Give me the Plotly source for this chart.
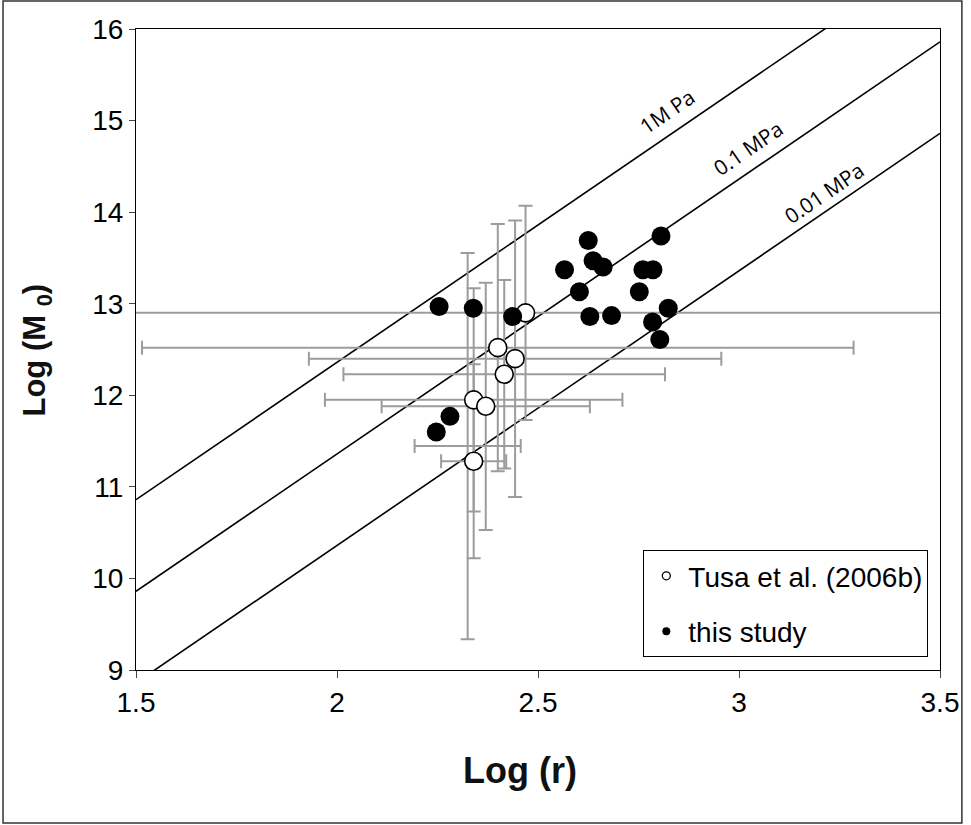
import plotly.graph_objects as go

# ---------------- data ----------------
# this study (filled)
study_logr = [2.254, 2.339, 2.437, 2.625, 2.566, 2.637, 2.662, 2.603, 2.629, 2.683,
              2.806, 2.761, 2.786, 2.752, 2.824, 2.785, 2.803, 2.281, 2.247]
study_logm = [12.97, 12.95, 12.86, 13.69, 13.37, 13.47, 13.40, 13.13, 12.86, 12.87,
              13.74, 13.37, 13.37, 13.13, 12.95, 12.80, 12.61, 11.77, 11.60]

# Tusa et al. (2006b) (open) with error bars
tusa_logr = [2.400, 2.443, 2.416, 2.340, 2.370, 2.340, 2.325]
tusa_logm = [12.52, 12.40, 12.23, 11.95, 11.88, 11.28, 11.445]
tusa_err_r = [0.885, 0.513, 0.40, 0.37, 0.259, 0.081, 0.132]
tusa_err_m = [1.35, 1.51, 1.03, 1.22, 1.35, 1.06, 2.11]
tusa_marker_opacity = [1, 1, 1, 1, 1, 1, 0]

# Tusa point with the very wide log(r) uncertainty
tusa_wide_logr = [2.469]
tusa_wide_logm = [12.90]
tusa_wide_err_r_minus = [1.004]
tusa_wide_err_r_plus = [1.06]
tusa_wide_err_m = [1.17]

# constant stress-drop reference lines
stress_labels = ["1M Pa", "0.1 MPa", "0.01 MPa"]
line_logr = [1.5, 3.5]
line_logm_start = [10.86, 9.86, 8.86]
line_logm_end = [16.86, 15.86, 14.86]
label_logr = [2.823, 3.023, 3.211]
label_logm = [15.10, 14.70, 14.21]

x_ticks = [1.5, 2, 2.5, 3, 3.5]
y_ticks = [9, 10, 11, 12, 13, 14, 15, 16]

# ---------------- figure ----------------
GRAY = "#9c9c9c"
fig = go.Figure()

for i in range(len(stress_labels)):
    fig.add_trace(go.Scatter(x=line_logr, y=[line_logm_start[i], line_logm_end[i]],
                             mode="lines", line=dict(color="black", width=1.6),
                             showlegend=False, hoverinfo="skip"))

# error bars (drawn first)
fig.add_trace(go.Scatter(
    x=tusa_logr, y=tusa_logm, mode="markers",
    marker=dict(size=1, opacity=0),
    error_x=dict(type="data", array=tusa_err_r, color=GRAY, thickness=2, width=7),
    error_y=dict(type="data", array=tusa_err_m, color=GRAY, thickness=2, width=7),
    showlegend=False, hoverinfo="skip"))
fig.add_trace(go.Scatter(
    x=tusa_wide_logr, y=tusa_wide_logm, mode="markers",
    marker=dict(size=1, opacity=0), cliponaxis=False,
    error_x=dict(type="data", symmetric=False, array=tusa_wide_err_r_plus,
                 arrayminus=tusa_wide_err_r_minus, color=GRAY, thickness=2, width=0),
    showlegend=False, hoverinfo="skip"))
fig.add_trace(go.Scatter(
    x=tusa_wide_logr, y=tusa_wide_logm, mode="markers",
    marker=dict(size=1, opacity=0),
    error_y=dict(type="data", array=tusa_wide_err_m, color=GRAY, thickness=2, width=7),
    showlegend=False, hoverinfo="skip"))

# markers
fig.add_trace(go.Scatter(
    x=tusa_logr + tusa_wide_logr, y=tusa_logm + tusa_wide_logm, mode="markers",
    marker=dict(size=18, color="white", opacity=tusa_marker_opacity + [1],
                line=dict(color="black", width=1.6)),
    showlegend=False))
fig.add_trace(go.Scatter(
    x=study_logr, y=study_logm, mode="markers",
    marker=dict(size=19, color="black", line=dict(color="black", width=0)),
    showlegend=False))

# legend entries
fig.add_trace(go.Scatter(x=[None], y=[None], mode="markers", name="Tusa et al. (2006b)",
                         legendgroup="a",
                         marker=dict(size=8, color="white", line=dict(color="black", width=1.3))))
fig.add_trace(go.Scatter(x=[None], y=[None], mode="markers", name="this study",
                         legendgroup="b",
                         marker=dict(size=8, color="black")))

for i, lab in enumerate(stress_labels):
    fig.add_annotation(x=label_logr[i], y=label_logm[i], text=lab, showarrow=False,
                       textangle=-34.2, xref="x", yref="y",
                       font=dict(family="Open Sans, Lato, sans-serif", size=21, color="black"))

TICKFONT = dict(family="Liberation Sans, Arial", size=28, color="black")
fig.update_xaxes(range=[1.5, 3.5], tickvals=x_ticks, ticktext=[str(v) for v in x_ticks],
                 ticks="outside", ticklen=7, tickcolor="#444", tickwidth=1,
                 showline=True, linecolor="black", linewidth=1.2, mirror=True,
                 showgrid=False, zeroline=False, tickfont=TICKFONT)
fig.update_yaxes(range=[9, 16], tickvals=y_ticks,
                 ticks="outside", ticklen=6, tickcolor="#444", tickwidth=1,
                 showline=True, linecolor="black", linewidth=1.2, mirror=True,
                 showgrid=False, zeroline=False, tickfont=TICKFONT)

fig.add_annotation(x=0.478, y=-0.192, xref="paper", yref="paper", showarrow=False,
                   text="<b>Log (r)</b>",
                   font=dict(family="Liberation Sans, Arial", size=36, color="#111"))
fig.add_annotation(x=-0.150, y=0.499, xref="paper", yref="paper", showarrow=False,
                   text="<b>Log (M <sub>0</sub>)</b>", textangle=-90,
                   font=dict(family="Liberation Sans, Arial", size=31, color="#111"))

fig.add_shape(type="rect", xref="paper", yref="paper",
              x0=-0.1654, x1=1.0272, y0=-0.2387, y1=1.0437,
              line=dict(color="#333", width=1.5))

fig.update_layout(
    width=971, height=825,
    margin=dict(l=136, r=25, t=29, b=155),
    plot_bgcolor="white", paper_bgcolor="white",
    legend=dict(x=0.631, y=0.187, xanchor="left", yanchor="top",
                bordercolor="black", borderwidth=1, bgcolor="white",
                font=dict(family="Liberation Sans, Arial", size=28, color="black"),
                tracegroupgap=16, itemwidth=34),
)

fig.write_html("out.html")
